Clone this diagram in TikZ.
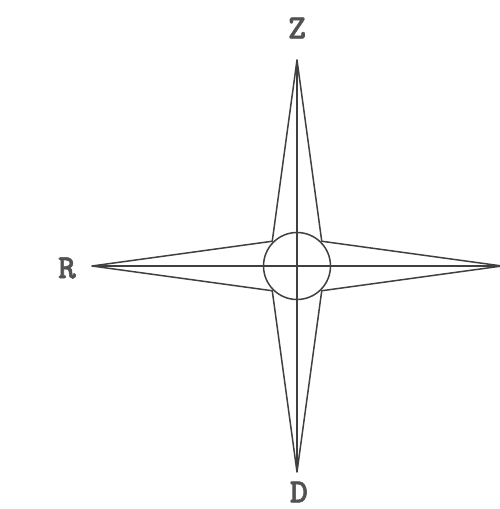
\documentclass[tikz,border=0pt]{standalone}
\usepackage{fontspec}
\newfontfamily\lblfont[FakeBold=1.6]{lmmonolt10-bold.otf}
\usetikzlibrary{calc}
\begin{document}
\begin{tikzpicture}[x=1pt,y=1pt,
  ln/.style={draw=black!75,line width=1.5pt,line join=round},
  lbl/.style={font=\fontsize{34}{36}\selectfont\lblfont,text=black!68,inner sep=0pt}]
\useasboundingbox (0,0) rectangle (499,509);
\coordinate (c) at (297,243);
\coordinate (t) at (297,449);
\coordinate (b) at (297,37);
\coordinate (l) at (92,243);
\coordinate (r) at (502,243);
\coordinate (ne) at ($(c)+(45:35)$);
\coordinate (nw) at ($(c)+(135:35)$);
\coordinate (sw) at ($(c)+(225:35)$);
\coordinate (se) at ($(c)+(315:35)$);
\draw[ln] (t) -- (ne) -- (r) -- (se) -- (b) -- (sw) -- (l) -- (nw) -- cycle;
\draw[ln] (t) -- (b);
\draw[ln] (l) -- (r);
\node[ln,circle,minimum size=67,inner sep=0pt,fill=none] (circ) at (c) {};
\node[lbl] (Z) at (297,481) {Z};
\node[lbl] (R) at (67,241) {R};
\node[lbl] (D) at (299,17) {D};
\end{tikzpicture}
\end{document}
